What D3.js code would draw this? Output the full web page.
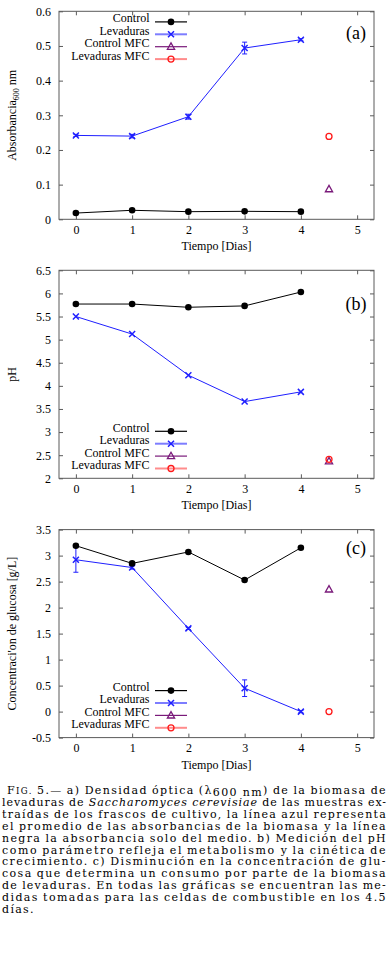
<!DOCTYPE html>
<html>
<head>
<meta charset="utf-8">
<script src="https://cdn.jsdelivr.net/npm/d3@7"></script>
<style>
body { margin: 0; background: #fff; }
svg { display: block; }
.tick text { font-family: "Liberation Serif", "Times New Roman", serif; font-size: 12px; fill: #000; }
.lbl { font-family: "Liberation Serif", "Times New Roman", serif; font-size: 12px; fill: #000; }
.cap { font-family: "DejaVu Serif", "Liberation Serif", serif; font-size: 11px; fill: #000; }
</style>
</head>
<body>
<div id="fig"></div>
<script>
// dias de muestreo
let dias = [0, 1, 2, 3, 4]
let diaMFC = 4.5
let xTicks = [0, 1, 2, 3, 4, 5]

// (a) absorbancia 600 nm
let absControl = [0.018, 0.026, 0.022, 0.023, 0.022]
let absLevaduras = [0.242, 0.240, 0.296, 0.494, 0.518]
let absLevadurasErr = [0.003, 0.005, 0.007, 0.017, 0.003]
let absControlMFC = 0.087
let absLevadurasMFC = 0.239
let absTicks = [0, 0.1, 0.2, 0.3, 0.4, 0.5, 0.6]

// (b) pH
let phControl = [5.77, 5.77, 5.70, 5.73, 6.03]
let phLevaduras = [5.50, 5.12, 4.23, 3.66, 3.87]
let phLevadurasErr = [0, 0, 0, 0, 0]
let phControlMFC = 2.37
let phLevadurasMFC = 2.41
let phTicks = [2, 2.5, 3, 3.5, 4, 4.5, 5, 5.5, 6, 6.5]

// (c) glucosa g/L
let gluControl = [3.19, 2.85, 3.07, 2.53, 3.15]
let gluLevaduras = [2.92, 2.77, 1.60, 0.45, 0.0]
let gluLevadurasErr = [0.24, 0.03, 0.02, 0.16, 0.02]
let gluControlMFC = 2.35
let gluLevadurasMFC = 0.0
let gluTicks = [-0.5, 0, 0.5, 1, 1.5, 2, 2.5, 3, 3.5]

let series = ['Control', 'Levaduras', 'Control MFC', 'Levaduras MFC']

let caption = [
    'F~IG.~ 5.— a) Densidad óptica (λ_600\u00a0nm_) de la biomasa de',
    'levaduras de *Saccharomyces* *cerevisiae* de las muestras ex-',
    'traídas de los frascos de cultivo, la línea azul representa',
    'el promedio de las absorbancias de la biomasa y la línea',
    'negra la absorbancia solo del medio. b) Medición del pH',
    'como parámetro refleja el metabolismo y la cinética de',
    'crecimiento. c) Disminución en la concentración de glu-',
    'cosa que determina un consumo por parte de la biomasa',
    'de levaduras. En todas las gráficas se encuentran las me-',
    'didas tomadas para las celdas de combustible en los 4.5',
    'días.'
]

let panels = [
    {tag: '(a)', domain: [0, 0.6], ticks: absTicks, control: absControl, lev: absLevaduras, err: absLevadurasErr,
     cMFC: absControlMFC, lMFC: absLevadurasMFC, ylabel: 'abs'},
    {tag: '(b)', domain: [2, 6.5], ticks: phTicks, control: phControl, lev: phLevaduras, err: phLevadurasErr,
     cMFC: phControlMFC, lMFC: phLevadurasMFC, ylabel: 'pH'},
    {tag: '(c)', domain: [-0.5, 3.5], ticks: gluTicks, control: gluControl, lev: gluLevaduras, err: gluLevadurasErr,
     cMFC: gluControlMFC, lMFC: gluLevadurasMFC, ylabel: "Concentraci'on de glucosa [g/L]"}
]

// layout per panel
let tops = [11.3, 270.3, 529.6]
let tagY = [27.5, 40, 24]
let legendY = [10.6, 161]

let blue = '#1f1fff', purple = '#7a1a7a', red = '#ff1a1a', border = '#5a5a5a'

let svg = d3.select('#fig').append('svg').attr('width', 388).attr('height', 962)
svg.append('rect').attr('width', 388).attr('height', 962).attr('fill', '#fff')

let plotL = 59, plotR = 374, plotH = 208
let x = d3.scaleLinear().domain([-0.3, 5.3]).range([plotL, plotR])
let fmt = d => String(+d.toFixed(1))

let crossPath = 'M-3,-3L3,3M-3,3L3,-3'
let triPath = 'M0,-3.8L3.6,2.6L-3.6,2.6Z'

let drawMarker = (g, kind, cx, cy) => {
    if (kind === 0) {
        g.append('circle').attr('cx', cx).attr('cy', cy).attr('r', 3.3).attr('fill', '#000')
    } else if (kind === 1) {
        g.append('path').attr('d', crossPath).attr('transform', `translate(${cx},${cy})`)
            .attr('stroke', blue).attr('stroke-width', 1.5).attr('fill', 'none')
    } else if (kind === 2) {
        g.append('path').attr('d', triPath).attr('transform', `translate(${cx},${cy})`)
            .attr('stroke', purple).attr('stroke-width', 1.3).attr('fill', 'none')
    } else {
        g.append('circle').attr('cx', cx).attr('cy', cy).attr('r', 3).attr('stroke', red)
            .attr('stroke-width', 1.3).attr('fill', 'none')
    }
}

let drawPanel = (p, i) => {
    let g = svg.append('g').attr('transform', `translate(0,${tops[i]})`)
    let y = d3.scaleLinear().domain(p.domain).range([plotH, 0])

    // axes, ticks inward and mirrored
    g.append('g').attr('color', border).attr('transform', `translate(${plotL},0)`)
        .call(d3.axisLeft(y).tickValues(p.ticks).tickSize(-4).tickPadding(8).tickFormat(fmt))
        .call(a => a.select('.domain').remove())
    g.append('g').attr('color', border).attr('transform', `translate(${plotR},0)`)
        .call(d3.axisRight(y).tickValues(p.ticks).tickSize(-4).tickFormat(''))
        .call(a => a.select('.domain').remove())
    g.append('g').attr('color', border).attr('transform', `translate(0,${plotH})`)
        .call(d3.axisBottom(x).tickValues(xTicks).tickSize(-4).tickPadding(6).tickFormat(d3.format('d')))
        .call(a => a.select('.domain').remove())
    g.append('g').attr('color', border)
        .call(d3.axisTop(x).tickValues(xTicks).tickSize(-4).tickFormat(''))
        .call(a => a.select('.domain').remove())
    g.append('rect').attr('x', plotL).attr('y', 0).attr('width', plotR - plotL).attr('height', plotH)
        .attr('fill', 'none').attr('stroke', border).attr('stroke-width', 1)

    // axis titles
    g.append('text').attr('class', 'lbl').attr('x', (plotL + plotR) / 2).attr('y', plotH + 31)
        .attr('text-anchor', 'middle').text('Tiempo [Dias]')
    let yl = g.append('text').attr('class', 'lbl').attr('text-anchor', 'middle')
        .attr('transform', `translate(16,${plotH / 2}) rotate(-90)`)
    if (p.ylabel === 'abs') {
        yl.append('tspan').text('Absorbancia')
        yl.append('tspan').attr('font-size', '8px').attr('dy', 3).text('600')
        yl.append('tspan').attr('dy', -3).text(' nm')
    } else {
        yl.text(p.ylabel)
    }

    // panel tag
    g.append('text').attr('class', 'lbl').style('font-size', '18px').attr('x', 356).attr('y', tagY[i])
        .attr('text-anchor', 'middle').text(p.tag)

    let line = d3.line().x((d, k) => x(dias[k])).y(d => y(d))

    // levaduras: error bars, line, markers
    let eb = g.append('g').attr('stroke', blue).attr('stroke-width', 1)
    p.lev.forEach((v, k) => {
        let e = p.err[k]
        if (e <= 0) return
        eb.append('line').attr('x1', x(dias[k])).attr('x2', x(dias[k])).attr('y1', y(v - e)).attr('y2', y(v + e))
        eb.append('line').attr('x1', x(dias[k]) - 2.5).attr('x2', x(dias[k]) + 2.5).attr('y1', y(v - e)).attr('y2', y(v - e))
        eb.append('line').attr('x1', x(dias[k]) - 2.5).attr('x2', x(dias[k]) + 2.5).attr('y1', y(v + e)).attr('y2', y(v + e))
    })
    g.append('path').datum(p.lev).attr('d', line).attr('fill', 'none').attr('stroke', blue).attr('stroke-width', 1)
    p.lev.forEach((v, k) => drawMarker(g, 1, x(dias[k]), y(v)))

    // control
    g.append('path').datum(p.control).attr('d', line).attr('fill', 'none').attr('stroke', '#000').attr('stroke-width', 1)
    p.control.forEach((v, k) => drawMarker(g, 0, x(dias[k]), y(v)))

    // celdas MFC
    drawMarker(g, 2, x(diaMFC), y(p.cMFC))
    drawMarker(g, 3, x(diaMFC), y(p.lMFC))

    // legend
    let ly = i === 0 ? legendY[0] : legendY[1]
    let lineCols = ['#000', '#7d7dff', purple, '#ff8c8c']
    let lineW = [1.2, 2, 1.2, 2]
    series.forEach((s, k) => {
        let yy = ly + k * 12.4
        g.append('text').attr('class', 'lbl').attr('x', 149.5).attr('y', yy + 0.5)
            .attr('text-anchor', 'end').text(s)
        g.append('line').attr('x1', 155).attr('x2', 187).attr('y1', yy).attr('y2', yy)
            .attr('stroke', lineCols[k]).attr('stroke-width', lineW[k])
        drawMarker(g, k, 171, yy)
    })
}

panels.forEach(drawPanel)

// caption: words widened with letter spacing, then justified
let segRe = /\*([^*]+)\*|_([^_]+)_|~([^~]+)~|([^*_~]+)/g
let capTop = 794, capLead = 11.9, capL = 2, capR = 387, wordGap = 4.2
let lsUsed = []
caption.forEach((ln, li) => {
    let words = ln.split(' ')
    let left = li === 0 ? 7 : capL
    let yy = capTop + li * capLead
    let nodes = words.map(w => {
        let t = svg.append('text').attr('class', 'cap').attr('x', 0).attr('y', yy)
        let m, shifted = false
        segRe.lastIndex = 0
        while ((m = segRe.exec(w)) !== null) {
            let sp
            if (m[1]) sp = t.append('tspan').attr('font-style', 'italic').text(m[1])
            else if (m[2]) { sp = t.append('tspan').attr('dy', 2).text(m[2]); shifted = true; continue }
            else if (m[3]) sp = t.append('tspan').style('font-size', '8.6px').text(m[3])
            else sp = t.append('tspan').text(m[4])
            if (shifted) { sp.attr('dy', -2); shifted = false }
        }
        return t
    })
    let widths = nodes.map(t => t.node().getComputedTextLength())
    let chars = nodes.map(t => t.node().getNumberOfChars())
    let last = li === caption.length - 1
    let ls
    if (last) ls = d3.mean(lsUsed)
    else {
        ls = (capR - left - d3.sum(widths) - wordGap * (words.length - 1)) / d3.sum(chars)
        lsUsed.push(ls)
    }
    // measure again with the spacing applied (ink box)
    nodes.forEach(t => t.style('letter-spacing', ls + 'px'))
    let boxes = nodes.map(t => t.node().getBBox())
    let inkW = boxes.map(b => b.width)
    let gap = last ? wordGap : (capR - left - d3.sum(inkW)) / (words.length - 1)
    let cx = left
    nodes.forEach((t, k) => {
        t.attr('x', cx - boxes[k].x)
        cx += inkW[k] + gap
    })
})
</script>
</body>
</html>
